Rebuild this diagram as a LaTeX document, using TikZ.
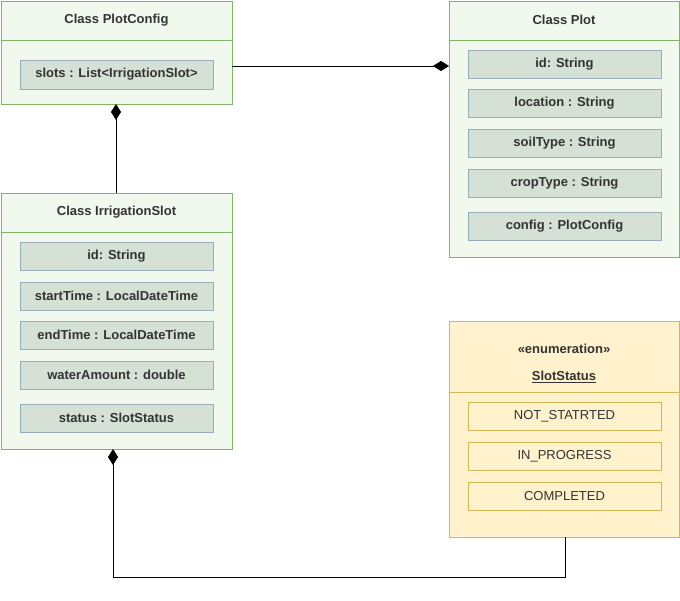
\documentclass[tikz,border=0pt]{standalone}
\usepackage{fontspec}
\setmainfont{Liberation Sans}
\usetikzlibrary{arrows.meta}
\definecolor{gb}{HTML}{82B366}\definecolor{gf}{HTML}{F1F8EE}
\definecolor{fb}{HTML}{9AACB8}\definecolor{ff}{HTML}{D5E1D5}
\definecolor{yb}{HTML}{D6B656}\definecolor{yf}{HTML}{FFF2CC}
\definecolor{tx}{HTML}{333333}
\begin{document}
\begin{tikzpicture}[x=1pt,y=-1pt,
 cls/.style={draw=gb,fill=gf,line width=0.8pt},
 fld/.style={draw=fb,fill=ff,line width=0.7pt,font=\fontsize{13}{15}\selectfont\bfseries,text=tx},
 efld/.style={draw=yb,fill=yf,line width=0.7pt,font=\fontsize{13}{15}\selectfont,text=tx},
 ttl/.style={font=\fontsize{13}{15}\selectfont\bfseries,text=tx},
 dia/.style={-{Diamond[length=16pt,width=10pt]}}]
\useasboundingbox (0,0) rectangle (680,601);
% PlotConfig
\draw[cls] (1,1) rectangle (232,104);
\draw[gb,line width=0.8pt] (1,40) -- (232,40);
\node[ttl] (pct) at (116.5,20) {Class PlotConfig};
\draw[fld] (20,60) rectangle node (slots) {slots : List<IrrigationSlot>} (213,89);
\coordinate (pcR) at (232,66);\coordinate (pcB) at (116,104);
% Plot
\draw[cls] (449,1) rectangle (679,257);
\draw[gb,line width=0.8pt] (449,40) -- (679,40);
\node[ttl] (plt) at (564,20) {Class Plot};
\draw[fld] (468,50) rectangle node (p1) {id: String} (661,78);
\draw[fld] (468,89) rectangle node (p2) {location : String} (661,117);
\draw[fld] (468,129) rectangle node (p3) {soilType : String} (661,157);
\draw[fld] (468,169) rectangle node (p4) {cropType : String} (661,197);
\draw[fld] (468,212) rectangle node (p5) {config : PlotConfig} (661,240);
\coordinate (plL) at (449,66);
% IrrigationSlot
\draw[cls] (1,193) rectangle (232,449);
\draw[gb,line width=0.8pt] (1,232) -- (232,232);
\node[ttl] (ist) at (116.5,212) {Class IrrigationSlot};
\draw[fld] (20,242) rectangle node (i1) {id: String} (213,270);
\draw[fld] (20,282) rectangle node (i2) {startTime : LocalDateTime} (213,310);
\draw[fld] (20,321) rectangle node (i3) {endTime : LocalDateTime} (213,349);
\draw[fld] (20,361) rectangle node (i4) {waterAmount : double} (213,389);
\draw[fld] (20,404) rectangle node (i5) {status : SlotStatus} (213,432);
\coordinate (isT) at (116,193);\coordinate (isB) at (113,449);
% Enum
\draw[draw=yb,fill=yf,line width=0.8pt] (449,321) rectangle (679,537);
\draw[yb,line width=0.8pt] (449,392) -- (679,392);
\node[ttl] (en1) at (564,349) {\textless\textless enumeration\textgreater\textgreater};
\node[ttl] (en2) at (564,377) {\underline{SlotStatus}};
\draw[efld] (468,402) rectangle node (e1) {NOT\_STATRTED} (661,430);
\draw[efld] (468,442) rectangle node (e2) {IN\_PROGRESS} (661,470);
\draw[efld] (468,482) rectangle node (e3) {COMPLETED} (661,510);
\coordinate (enB) at (565,537);
% connectors
\draw[dia,line width=0.6pt] (pcR) -- (plL);
\draw[dia,line width=0.6pt] (isT) -- (pcB);
\draw[dia,line width=0.6pt] (enB) |- (113,577) -- (isB);
\end{tikzpicture}
\end{document}
